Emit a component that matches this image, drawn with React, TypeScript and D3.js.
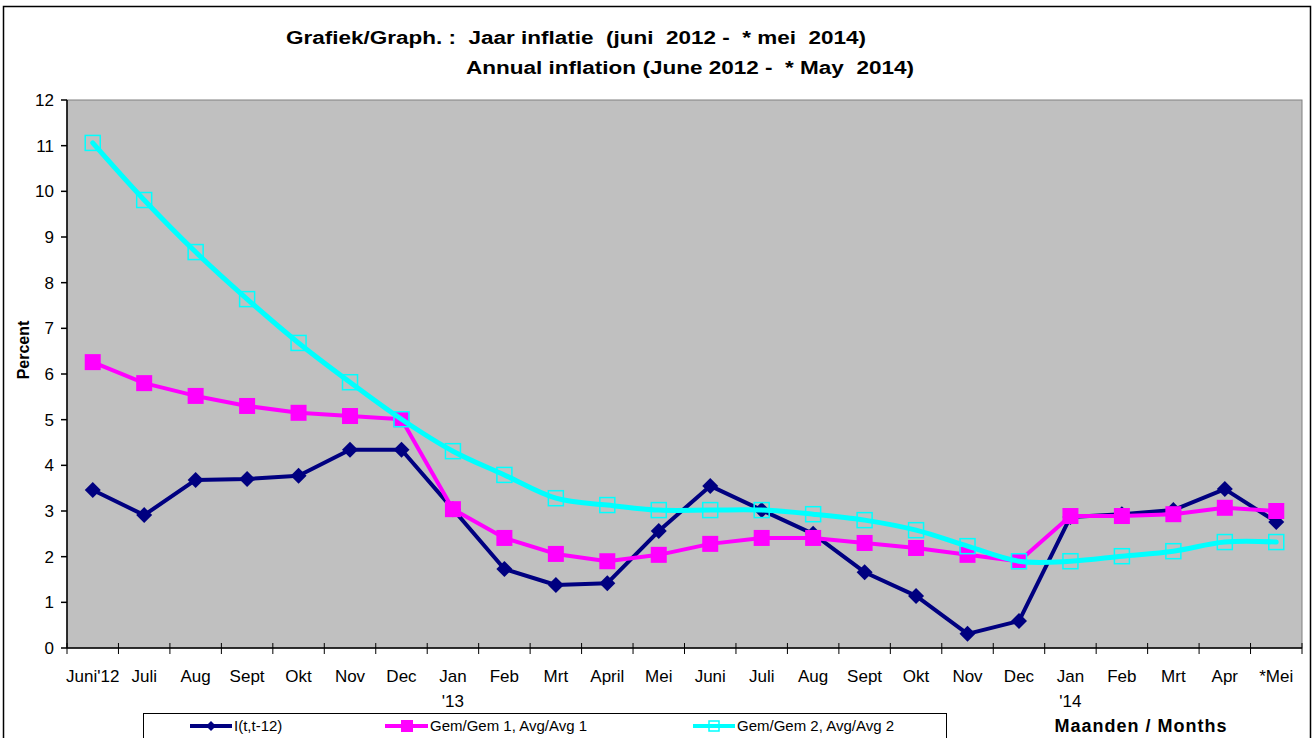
import React from 'react';
import * as d3 from 'd3';

const categories = ["Juni'12", 'Juli', 'Aug', 'Sept', 'Okt', 'Nov', 'Dec', 'Jan', 'Feb', 'Mrt', 'April', 'Mei',
  'Juni', 'Juli ', 'Aug ', 'Sept ', 'Okt ', 'Nov ', 'Dec ', 'Jan ', 'Feb ', 'Mrt ', 'Apr', '*Mei'];
const yearMarks: Record<string, string> = { 'Jan': "'13", 'Jan ': "'14" };

const inflation = [3.46, 2.91, 3.68, 3.70, 3.77, 4.34, 4.34, 3.04, 1.73, 1.38, 1.42, 2.56,
  3.55, 3.02, 2.50, 1.66, 1.14, 0.31, 0.59, 2.87, 2.93, 3.02, 3.48, 2.76];
const avg1 = [6.26, 5.80, 5.52, 5.30, 5.15, 5.08, 5.01, 3.04, 2.41, 2.06, 1.90, 2.04,
  2.28, 2.41, 2.41, 2.30, 2.19, 2.04, 1.90, 2.89, 2.89, 2.93, 3.07, 3.00];
const avg2 = [11.06, 9.81, 8.67, 7.64, 6.68, 5.82, 5.01, 4.31, 3.79, 3.28, 3.13, 3.02,
  3.02, 3.02, 2.93, 2.80, 2.58, 2.23, 1.90, 1.90, 2.01, 2.12, 2.32, 2.32];
const yTicks = [0, 1, 2, 3, 4, 5, 6, 7, 8, 9, 10, 11, 12];

const font = 'Liberation Sans, Arial, sans-serif';

export default function App() {
  const left = 67, right = 1302, top = 100, bottom = 648;
  const x = d3.scaleBand<string>().domain(categories).range([left, right]);
  const y = d3.scaleLinear().domain([0, 12]).range([bottom, top]);
  const cx = (c: string) => (x(c) as number) + x.bandwidth() / 2;

  const pts = (vals: number[]) => vals.map((v, i) => [cx(categories[i]), y(v)] as [number, number]);
  const straight = d3.line();
  const smooth = d3.line().curve(d3.curveCatmullRom.alpha(0.5));

  const bounds = categories.map(c => x(c) as number).concat([right]);
  const diamond = (px: number, py: number, r = 8) =>
    `M${px},${py - r}L${px + r},${py}L${px},${py + r}L${px - r},${py}Z`;

  return (
    <svg width={1314} height={738} style={{ position: 'absolute', left: 0, top: 0, background: '#fff' }}
      fontFamily={font}>
      <rect x={3.5} y={6.5} width={1307} height={740} fill="#fff" stroke="#000" strokeWidth={1.5} />
      <text x={576} y={44} textAnchor="middle" fontSize={17.5} fontWeight="bold" xmlSpace="preserve"
        style={{ whiteSpace: 'pre' }} textLength={580} lengthAdjust="spacingAndGlyphs">
        {'Grafiek/Graph. :  Jaar inflatie  (juni  2012 -  * mei  2014)'}
      </text>
      <text x={690} y={74} textAnchor="middle" fontSize={17.5} fontWeight="bold" xmlSpace="preserve"
        style={{ whiteSpace: 'pre' }} textLength={448} lengthAdjust="spacingAndGlyphs">
        {'Annual inflation (June 2012 -  * May  2014)'}
      </text>

      <rect x={left} y={top} width={right - left} height={bottom - top} fill="#c0c0c0" stroke="#808080" strokeWidth={1} />

      {/* y axis */}
      <line x1={left} x2={left} y1={top} y2={bottom} stroke="#000" strokeWidth={1.5} />
      {yTicks.map(t => (
        <g key={t}>
          <line x1={left - 6} x2={left} y1={y(t)} y2={y(t)} stroke="#000" strokeWidth={1.5} />
          <text x={54} y={y(t) + 6} textAnchor="end" fontSize={17}>{t}</text>
        </g>
      ))}
      <text transform={`translate(29,${(top + bottom) / 2 - 24}) rotate(-90)`} textAnchor="middle"
        fontSize={16} fontWeight="bold">Percent</text>

      {/* x axis */}
      <line x1={left} x2={right} y1={bottom} y2={bottom} stroke="#000" strokeWidth={1.5} />
      {bounds.map((b, i) => (
        <line key={i} x1={b} x2={b} y1={bottom - 5} y2={bottom + 6} stroke="#000" strokeWidth={1} />
      ))}
      {categories.map(c => (
        <g key={c}>
          <text x={cx(c)} y={682} textAnchor="middle" fontSize={17}>{c.trim()}</text>
          {yearMarks[c] && <text x={cx(c)} y={707} textAnchor="middle" fontSize={17}>{yearMarks[c]}</text>}
        </g>
      ))}

      {/* series */}
      <path d={straight(pts(inflation)) as string} fill="none" stroke="#000080" strokeWidth={4} strokeLinejoin="round" />
      {pts(inflation).map(([px, py], i) => <path key={'d' + i} d={diamond(px, py)} fill="#000080" />)}

      <path d={straight(pts(avg1)) as string} fill="none" stroke="#ff00ff" strokeWidth={4} strokeLinejoin="round" />
      {pts(avg1).map(([px, py], i) => <rect key={'m' + i} x={px - 8} y={py - 8} width={16} height={16} fill="#ff00ff" />)}

      <path d={smooth(pts(avg2)) as string} fill="none" stroke="#00ffff" strokeWidth={5} strokeLinecap="round" />
      {pts(avg2).map(([px, py], i) => (
        <rect key={'c' + i} x={px - 7.5} y={py - 7.5} width={15} height={15} fill="none" stroke="#00ffff" strokeWidth={1.5} />
      ))}

      {/* legend */}
      <rect x={143.5} y={713.5} width={803} height={30} fill="#fff" stroke="#000" strokeWidth={1} />
      <line x1={190} x2={232} y1={726} y2={726} stroke="#000080" strokeWidth={4} />
      <path d={diamond(211, 726, 5)} fill="#000080" />
      <text x={234} y={731} fontSize={15}>I(t,t-12)</text>
      <line x1={385} x2={428} y1={726} y2={726} stroke="#ff00ff" strokeWidth={4} />
      <rect x={401} y={720} width={12} height={12} fill="#ff00ff" />
      <text x={430} y={731} fontSize={15}>Gem/Gem 1, Avg/Avg 1</text>
      <line x1={693} x2={735} y1={726} y2={726} stroke="#00ffff" strokeWidth={4} />
      <rect x={709} y={721} width={10} height={10} fill="none" stroke="#00ffff" strokeWidth={1.5} />
      <text x={737} y={731} fontSize={15}>Gem/Gem 2, Avg/Avg 2</text>

      <text x={1141} y={732} textAnchor="middle" fontSize={18} fontWeight="bold" letterSpacing={1}>Maanden / Months</text>
    </svg>
  );
}
